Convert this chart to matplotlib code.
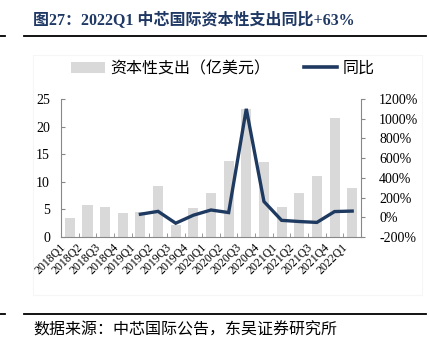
import matplotlib
matplotlib.use("Agg")
import matplotlib.pyplot as plt
from matplotlib.patches import Patch, Rectangle
from matplotlib.lines import Line2D
from matplotlib.ticker import FuncFormatter, FixedLocator
import numpy as np

plt.rcParams['font.family'] = ['Liberation Serif', 'Noto Sans CJK SC', 'DejaVu Sans']

quarters = ["2018Q1", "2018Q2", "2018Q3", "2018Q4",
            "2019Q1", "2019Q2", "2019Q3", "2019Q4",
            "2020Q1", "2020Q2", "2020Q3", "2020Q4",
            "2021Q1", "2021Q2", "2021Q3", "2021Q4", "2022Q1"]
capex = [3.5, 5.8, 5.5, 4.3, 4.6, 9.3, 2.2, 5.2, 8.0, 13.8, 23.1, 13.6,
         5.5, 7.9, 11.0, 21.6, 8.9]
yoy_quarters = quarters[4:]
yoy = [31, 60, -60, 21, 74, 48, 1100, 160, -31, -43, -52, 58, 63]

title = "图27：2022Q1 中芯国际资本性支出同比+63%"
source = "数据来源：中芯国际公告，东吴证券研究所"
bar_label = "资本性支出（亿美元）"
line_label = "同比"

bar_color = "#d9d9d9"
line_color = "#1f3a60"
spine_color = "#888888"

fig = plt.figure(figsize=(4.30, 3.56), dpi=100)
W, H = 430, 356

# faint panel
fig.patches.append(Rectangle((33 / W, 1 - 295 / H), (422 - 33) / W, (295 - 55) / H,
                             transform=fig.transFigure, fill=False,
                             edgecolor="#f6f6f6", linewidth=0.8))

ax = fig.add_axes([61 / W, 1 - 237 / H, 300 / W, 138 / H])
ax2 = ax.twinx()

x = np.arange(len(quarters))
ax.bar(x, capex, width=0.57, color=bar_color, zorder=2)
xl = np.array([quarters.index(q) for q in yoy_quarters])
ax2.plot(xl, yoy, color=line_color, linewidth=2.4, solid_joinstyle='miter', zorder=3)

ax.set_xlim(-0.5, len(quarters) - 0.5)
ax.set_ylim(0, 25)
ax.set_yticks(np.arange(0, 26, 5))
ax2.set_ylim(-200, 1200)
ax2.set_yticks(np.arange(-200, 1201, 200))
ax2.yaxis.set_major_formatter(FuncFormatter(lambda v, p: f"{v:.0f}%"))

ax.set_xticks(x)
ax.set_xticklabels(quarters, rotation=45, ha='right', fontsize=8.5)
ax.xaxis.set_minor_locator(FixedLocator(np.arange(0.5, len(quarters) - 1, 1)))
ax.tick_params(axis='x', which='major', length=0, pad=3)
ax.tick_params(axis='x', which='minor', direction='in', length=3, color=spine_color)
for lab in ax.get_xticklabels():
    lab.set_transform(lab.get_transform() + matplotlib.transforms.ScaledTranslation(-2 / 100, 0, fig.dpi_scale_trans))

ax.tick_params(axis='y', direction='in', length=3, color=spine_color, labelsize=10, pad=8)
ax2.tick_params(axis='y', direction='out', length=3, color=spine_color, labelsize=10, pad=10)

for a in (ax, ax2):
    a.spines['top'].set_visible(False)
    for s in ('left', 'right', 'bottom'):
        a.spines[s].set_color(spine_color)
        a.spines[s].set_linewidth(0.8)
ax.spines['right'].set_visible(False)
ax2.spines['left'].set_visible(False)
ax2.spines['bottom'].set_visible(False)

handles = [Patch(facecolor=bar_color, edgecolor='none', label=bar_label),
           Line2D([0], [0], color=line_color, linewidth=2.6, label=line_label)]
fig.legend(handles=handles, loc='center left', bbox_to_anchor=(71 / W, 1 - 69 / H),
           ncol=2, frameon=False, fontsize=11.5, handlelength=2.1,
           handletextpad=0.35, columnspacing=2.1, borderaxespad=0, borderpad=0)

# title and rules
fig.text(33 / W, 1 - 21 / H, title, fontsize=11.5, fontweight='bold',
         color="#1f3864", va='center', ha='left')
for yy in (35.5, 314):
    fig.add_artist(Line2D([24 / W, 426 / W], [1 - yy / H, 1 - yy / H],
                          transform=fig.transFigure, color='black', linewidth=1.3))
    fig.add_artist(Line2D([0, 5 / W], [1 - yy / H, 1 - yy / H],
                          transform=fig.transFigure, color='black', linewidth=1.3))
fig.text(33 / W, 1 - 330 / H, source, fontsize=11.5, color='black', va='center', ha='left')

fig.savefig("out.png", dpi=100)
